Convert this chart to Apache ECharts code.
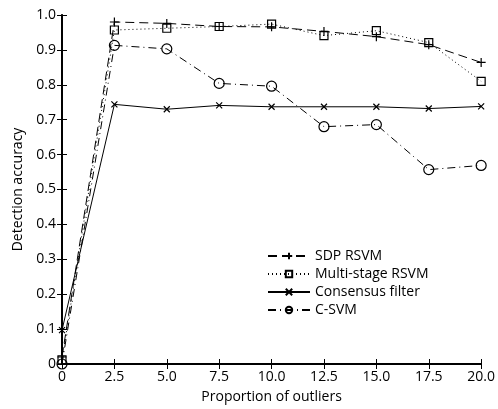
<!DOCTYPE html>
<html>
<head>
<meta charset="UTF-8">
<title>Detection accuracy</title>
<script src="https://cdn.jsdelivr.net/npm/echarts@6/dist/echarts.min.js"></script>
<style>
  html, body { margin: 0; padding: 0; background: #fff; }
  #container { width: 498px; height: 409px; }
</style>
</head>
<body>
<div id="container"></div>
<script>
// proportion of outliers (x)
var outliers = [0, 2.5, 5, 7.5, 10, 12.5, 15, 17.5, 20];
// detection accuracy per method
var sdpRsvm = [0.02, 0.980, 0.976, 0.967, 0.966, 0.953, 0.938, 0.915, 0.864];
var multiStage = [0.012, 0.957, 0.962, 0.967, 0.974, 0.941, 0.955, 0.921, 0.810];
var consensus = [0.097, 0.744, 0.730, 0.741, 0.737, 0.737, 0.737, 0.732, 0.738];
var cSvm = [0, 0.913, 0.903, 0.804, 0.796, 0.680, 0.686, 0.557, 0.569];

var FONT = 'Open Sans';
var plusPath = 'path://M5,0L5,10M0,5L10,5';
var crossPath = 'path://M0,0L10,10M10,0L0,10';

function pairs(ys) {
  var out = [];
  for (var i = 0; i < outliers.length; i++) out.push([outliers[i], ys[i]]);
  return out;
}

function mk(name, ys, dash, symbol, size) {
  return {
    name: name,
    type: 'line',
    data: pairs(ys),
    clip: false,
    symbol: symbol,
    symbolSize: size,
    showAllSymbol: true,
    lineStyle: { color: '#000', width: 1, type: dash },
    itemStyle: { color: 'rgba(255,255,255,0)', borderColor: '#000', borderWidth: 1.2 },
    emphasis: { disabled: true },
    animation: false
  };
}

var myChart = echarts.init(document.getElementById('container'));

var fmtX = function (v) { return v === 0 ? '0' : v.toFixed(1); };
var fmtY = function (v) { return v === 0 ? '0' : v.toFixed(1); };

var option = {
  backgroundColor: '#fff',
  animation: false,
  grid: { left: 62, right: 14, top: 15, bottom: 42 },
  legend: {
    orient: 'vertical',
    left: 262,
    top: 244,
    itemWidth: 42,
    itemHeight: 8,
    itemGap: 4,
    textStyle: { fontFamily: FONT, fontSize: 14, color: '#000' },
    data: ['SDP RSVM', 'Multi-stage RSVM', 'Consensus filter', 'C-SVM']
  },
  xAxis: [{
    type: 'value',
    min: 0, max: 20, interval: 2.5,
    position: 'bottom',
    name: 'Proportion of outliers',
    nameLocation: 'middle',
    nameGap: 26,
    nameTextStyle: { fontFamily: FONT, fontSize: 14, color: '#000' },
    axisLine: { lineStyle: { color: '#000', width: 2 } },
    axisTick: { inside: true, length: 5, lineStyle: { color: '#000' } },
    axisLabel: { formatter: fmtX, fontFamily: FONT, fontSize: 14, color: '#000', margin: 6 },
    splitLine: { show: false }
  }, {
    type: 'value',
    min: 0, max: 20, interval: 2.5,
    position: 'top',
    axisLine: { lineStyle: { color: '#000', width: 1.5 } },
    axisTick: { inside: true, length: 5, lineStyle: { color: '#000' } },
    axisLabel: { show: false },
    splitLine: { show: false }
  }],
  yAxis: [{
    type: 'value',
    min: 0, max: 1, interval: 0.1,
    position: 'left',
    name: 'Detection accuracy',
    nameLocation: 'middle',
    nameGap: 36,
    nameTextStyle: { fontFamily: FONT, fontSize: 14, color: '#000' },
    axisLine: { show: true, lineStyle: { color: '#000', width: 2 } },
    axisTick: { show: true, inside: true, length: 5, lineStyle: { color: '#000' } },
    axisLabel: { formatter: fmtY, fontFamily: FONT, fontSize: 14, color: '#000', margin: 6 },
    splitLine: { show: false }
  }, {
    type: 'value',
    min: 0, max: 1, interval: 0.1,
    position: 'right',
    axisLine: { show: true, lineStyle: { color: '#000', width: 1.5 } },
    axisTick: { show: true, inside: true, length: 5, lineStyle: { color: '#000' } },
    axisLabel: { show: false },
    splitLine: { show: false }
  }],
  series: [
    mk('SDP RSVM', sdpRsvm, [9, 5], plusPath, 9),
    mk('Multi-stage RSVM', multiStage, [1, 3], 'rect', 8),
    mk('Consensus filter', consensus, 'solid', crossPath, 6),
    mk('C-SVM', cSvm, [8, 4, 1, 4], 'circle', 10)
  ]
};

myChart.setOption(option);
</script>
</body>
</html>
